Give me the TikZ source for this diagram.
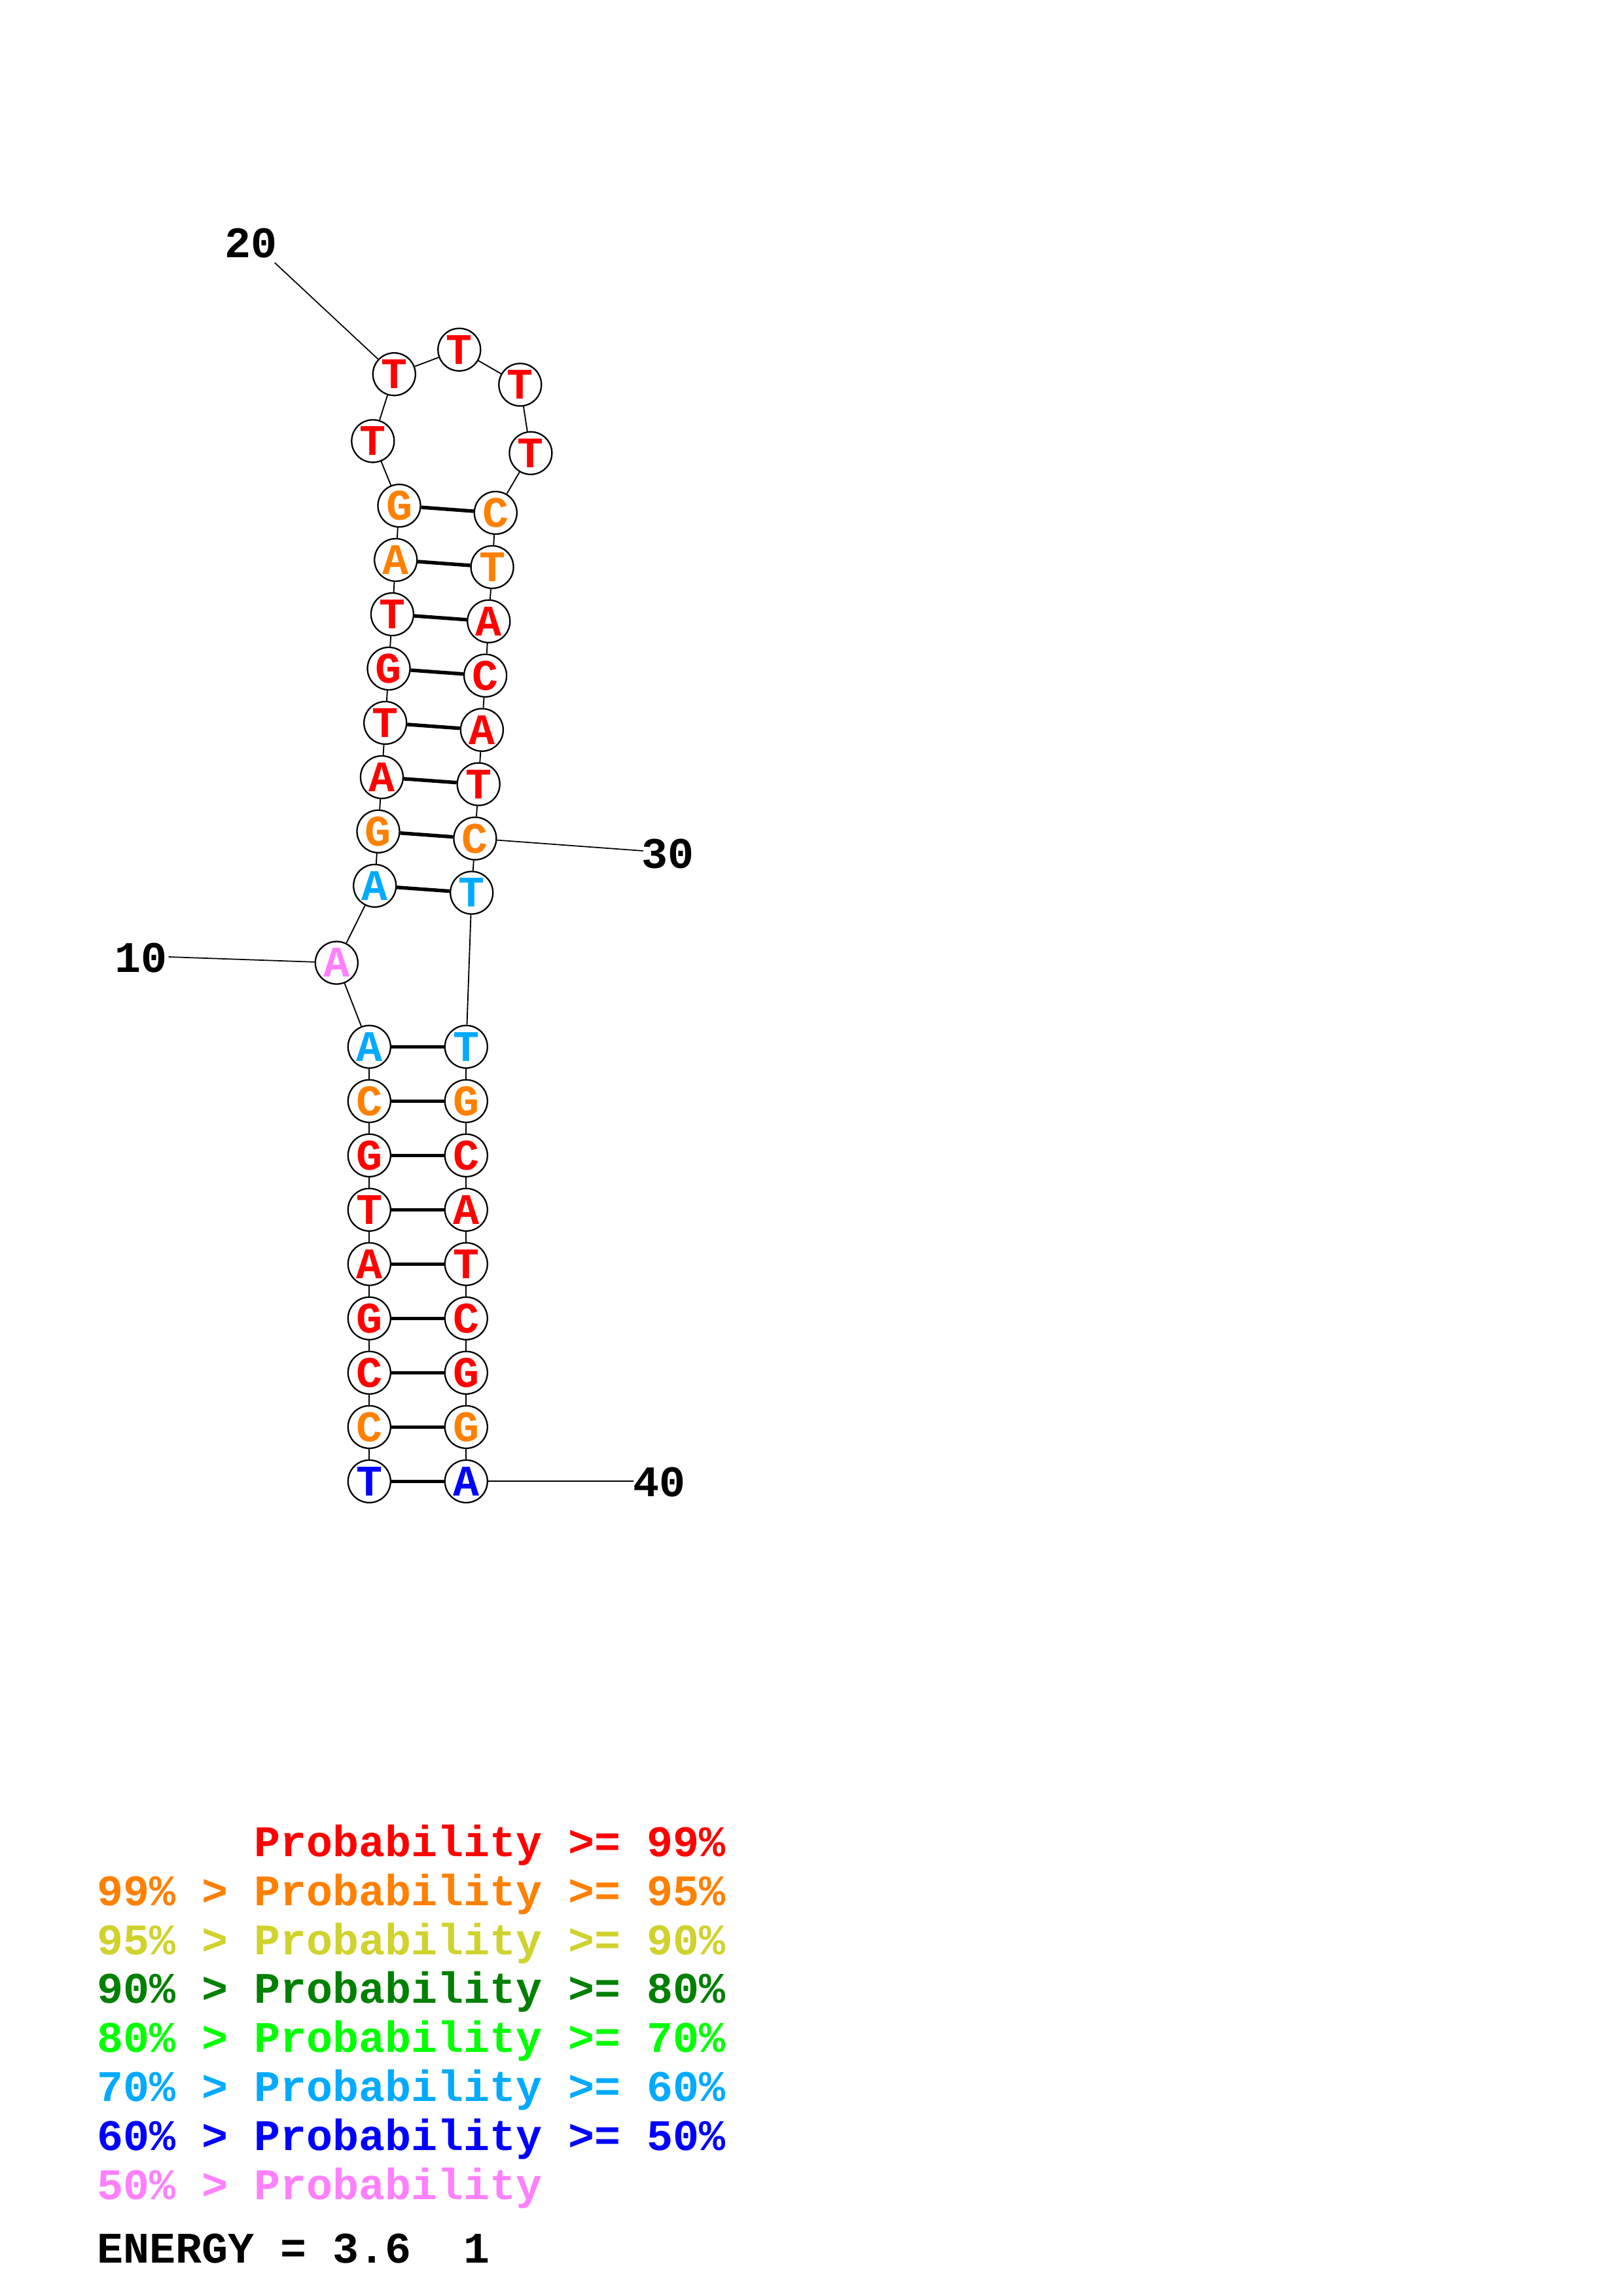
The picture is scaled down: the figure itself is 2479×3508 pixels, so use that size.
\documentclass[tikz,border=0pt]{standalone}
\usepackage{fontspec}
\newfontfamily\cour{Liberation Mono}
\definecolor{pr}{RGB}{255,0,0}
\definecolor{po}{RGB}{255,128,0}
\definecolor{py}{RGB}{208,210,45}
\definecolor{pdg}{RGB}{0,128,0}
\definecolor{pg}{RGB}{0,255,0}
\definecolor{pc}{RGB}{0,170,255}
\definecolor{pb}{RGB}{0,0,255}
\definecolor{pp}{RGB}{255,128,255}
\tikzset{
  base/.style={circle, draw=black, fill=white, line width=0.55bp, inner sep=0pt,
    minimum size=15.6bp, font=\cour\bfseries\fontsize{16bp}{19bp}\selectfont},
  bb/.style={line width=0.45bp},
  bp/.style={line width=1.3bp},
  lbl/.style={line width=0.42bp},
  num/.style={anchor=base, inner sep=0pt, font=\cour\bfseries\fontsize{16bp}{19bp}\selectfont},
  leg/.style={anchor=base west, inner sep=0pt, font=\cour\bfseries\fontsize{16bp}{19bp}\selectfont}
}
\begin{document}
\begin{tikzpicture}[x=0.24bp, y=-0.24bp]
\useasboundingbox (0,0) rectangle (2479,3508);
% lower stem
\node[base, text=pb]  (n1)  at (564.3,2263.3) {T};
\node[base, text=po]  (n2)  at (564.3,2180.3) {C};
\node[base, text=pr]  (n3)  at (564.3,2097.3) {C};
\node[base, text=pr]  (n4)  at (564.3,2014.3) {G};
\node[base, text=pr]  (n5)  at (564.3,1931.3) {A};
\node[base, text=pr]  (n6)  at (564.3,1848.3) {T};
\node[base, text=pr]  (n7)  at (564.3,1765.3) {G};
\node[base, text=po]  (n8)  at (564.3,1682.3) {C};
\node[base, text=pc]  (n9)  at (564.3,1599.3) {A};
\node[base, text=pp]  (n10) at (514.3,1471.0) {A};
% upper stem left
\node[base, text=pc]  (n11) at (572.7,1353.3) {A};
\node[base, text=po]  (n12) at (578.0,1270.3) {G};
\node[base, text=pr]  (n13) at (583.4,1187.4) {A};
\node[base, text=pr]  (n14) at (588.7,1104.4) {T};
\node[base, text=pr]  (n15) at (594.0,1021.5) {G};
\node[base, text=pr]  (n16) at (599.4,938.5) {T};
\node[base, text=po]  (n17) at (604.7,855.5) {A};
\node[base, text=po]  (n18) at (610.0,772.6) {G};
% loop
\node[base, text=pr]  (n19) at (569.8,673.9) {T};
\node[base, text=pr]  (n20) at (602.3,571.7) {T};
\node[base, text=pr]  (n21) at (701.8,534.2) {T};
\node[base, text=pr]  (n22) at (794.8,587.8) {T};
\node[base, text=pr]  (n23) at (810.9,692.3) {T};
% upper stem right
\node[base, text=po]  (n24) at (757.3,783.5) {C};
\node[base, text=po]  (n25) at (752.1,866.4) {T};
\node[base, text=pr]  (n26) at (746.8,949.3) {A};
\node[base, text=pr]  (n27) at (741.6,1032.2) {C};
\node[base, text=pr]  (n28) at (736.4,1115.2) {A};
\node[base, text=pr]  (n29) at (731.2,1198.1) {T};
\node[base, text=po]  (n30) at (725.9,1281.1) {C};
\node[base, text=pc]  (n31) at (720.7,1364.0) {T};
% lower stem right
\node[base, text=pc]  (n32) at (712.3,1599.3) {T};
\node[base, text=po]  (n33) at (712.3,1682.3) {G};
\node[base, text=pr]  (n34) at (712.3,1765.3) {C};
\node[base, text=pr]  (n35) at (712.3,1848.3) {A};
\node[base, text=pr]  (n36) at (712.3,1931.3) {T};
\node[base, text=pr]  (n37) at (712.3,2014.3) {C};
\node[base, text=pr]  (n38) at (712.3,2097.3) {G};
\node[base, text=po]  (n39) at (712.3,2180.3) {G};
\node[base, text=pb]  (n40) at (712.3,2263.3) {A};
% backbone
\foreach \a/\b in {1/2,2/3,3/4,4/5,5/6,6/7,7/8,8/9,9/10,10/11,11/12,12/13,13/14,14/15,15/16,16/17,17/18,18/19,19/20,20/21,21/22,22/23,23/24,24/25,25/26,26/27,27/28,28/29,29/30,30/31,31/32,32/33,33/34,34/35,35/36,36/37,37/38,38/39,39/40}
  \draw[bb] (n\a) -- (n\b);
% base pairs
\foreach \a/\b in {1/40,2/39,3/38,4/37,5/36,6/35,7/34,8/33,9/32,11/31,12/30,13/29,14/28,15/27,16/26,17/25,18/24}
  \draw[bp] (n\a) -- (n\b);
% numbering
\node[num] (l20) at (383.2,393) {20};
\node[num] (l10) at (216,1485) {10};
\node[num] (l30) at (1020.8,1326) {30};
\node[num] (l40) at (1007.3,2286) {40};
\coordinate (e20) at (419.8,401.4);
\coordinate (e10) at (257.7,1462);
\coordinate (e30) at (982.7,1300);
\coordinate (e40) at (968.3,2263.3);
\draw[lbl] (n20) -- (e20);
\draw[lbl] (n10) -- (e10);
\draw[lbl] (n30) -- (e30);
\draw[lbl] (n40) -- (e40);
% legend
\node[leg, text=pr]  (g1) at (148,2836.5) {\ \ \ \ \ \ Probability >= 99\%};
\node[leg, text=po]  (g2) at (148,2911.3) {99\% > Probability >= 95\%};
\node[leg, text=py]  (g3) at (148,2986.1) {95\% > Probability >= 90\%};
\node[leg, text=pdg] (g4) at (148,3060.9) {90\% > Probability >= 80\%};
\node[leg, text=pg]  (g5) at (148,3135.7) {80\% > Probability >= 70\%};
\node[leg, text=pc]  (g6) at (148,3210.5) {70\% > Probability >= 60\%};
\node[leg, text=pb]  (g7) at (148,3285.3) {60\% > Probability >= 50\%};
\node[leg, text=pp]  (g8) at (148,3360.1) {50\% > Probability};
\node[leg, text=black] (en) at (148,3457.2) {ENERGY = 3.6 \ 1};
\end{tikzpicture}
\end{document}
